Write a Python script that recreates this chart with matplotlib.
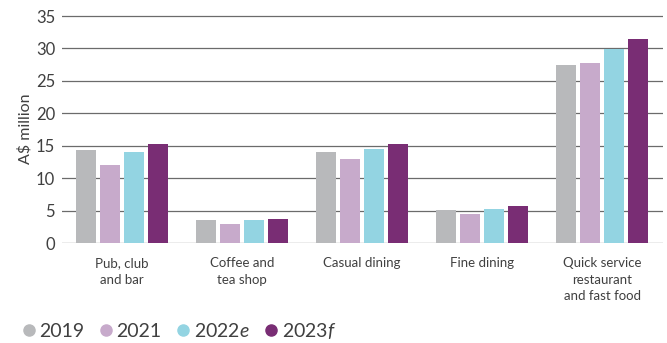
import matplotlib
matplotlib.use("Agg")
import matplotlib.pyplot as plt
from matplotlib.lines import Line2D
import numpy as np

plt.rcParams['font.family'] = ['Lato', 'DejaVu Sans']
plt.rcParams['mathtext.fontset'] = 'custom'
plt.rcParams['mathtext.rm'] = 'Lato'
plt.rcParams['mathtext.it'] = 'Lato:italic'

categories = ["Pub, club\nand bar", "Coffee and\ntea shop", "Casual dining",
              "Fine dining", "Quick service\nrestaurant\nand fast food"]
series_names = ["2019", "2021", "2022$\\mathit{e}$", "2023$\\mathit{f}$"]
v2019 = [14.4, 3.5, 14.1, 5.1, 27.5]
v2021 = [12.1, 3.0, 13.0, 4.5, 27.8]
v2022e = [14.1, 3.6, 14.5, 5.3, 29.9]
v2023f = [15.3, 3.7, 15.3, 5.7, 31.5]
yticks = [0, 5, 10, 15, 20, 25, 30, 35]

colors = ["#b8b9bb", "#c7aacb", "#93d4e2", "#792d74"]
text_color = "#404040"

fig = plt.figure(figsize=(6.67, 3.43), dpi=100)
ax = fig.add_axes([0.093, 0.291, 0.901, 0.666])

x = np.arange(len(categories))
offsets = [-0.3, -0.1, 0.1, 0.3]
for vals, off, c in zip([v2019, v2021, v2022e, v2023f], offsets, colors):
    ax.bar(x + off, vals, width=0.167, color=c, zorder=3)

for t in yticks:
    ax.axhline(t, color="#6b6b6b", lw=0.9, zorder=1)

ax.set_xlim(-0.5, 4.508)
ax.set_ylim(0, 35.2)
ax.set_yticks(yticks)
ax.set_xticks(x)
ax.set_xticklabels(categories, fontsize=9.5, color=text_color, linespacing=1.45, va="top")
ax.tick_params(axis="y", length=0, pad=5, labelsize=12, labelcolor=text_color)
ax.tick_params(axis="x", length=0, pad=10)
for s in ax.spines.values():
    s.set_visible(False)
ax.set_ylabel("A$ million", fontsize=11.5, color=text_color)
ax.yaxis.set_label_coords(-0.049, 0.5)

handles = [Line2D([], [], marker="o", linestyle="", markersize=8, color=c) for c in colors]
fig.legend(handles, series_names, loc="lower left", bbox_to_anchor=(0.005, -0.045),
           ncol=4, frameon=False, fontsize=14, handletextpad=0.15,
           columnspacing=0.7, handlelength=0.8, labelcolor=text_color)

fig.savefig("out.png", dpi=100)
